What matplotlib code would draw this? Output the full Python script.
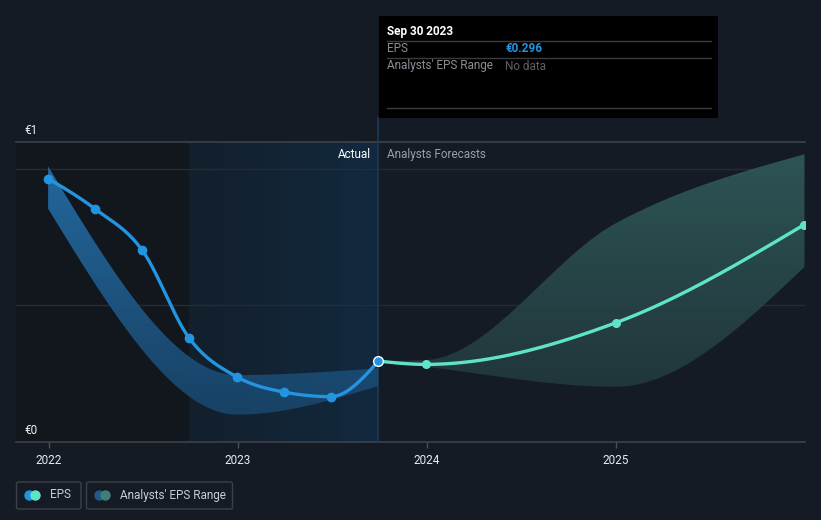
import numpy as np
import pandas as pd
import matplotlib
matplotlib.use("Agg")
import matplotlib.pyplot as plt
import matplotlib.dates as mdates
from matplotlib.lines import Line2D
from matplotlib.patches import Rectangle, FancyBboxPatch

plt.rcParams['font.family'] = ['Roboto', 'DejaVu Sans']

# ---------------- data ----------------
actual_dates = ['2021-12-31', '2022-03-31', '2022-06-30', '2022-09-30',
                '2022-12-31', '2023-03-31', '2023-06-30', '2023-09-30']
actual_eps = [0.964, 0.854, 0.704, 0.379, 0.238, 0.183, 0.166, 0.296]

forecast_dates = ['2023-09-30', '2023-12-31', '2024-12-31', '2025-12-31']
forecast_eps = [0.296, 0.284, 0.436, 0.796]

past_range_dates = ['2021-12-31', '2022-12-31', '2023-09-30']
past_range_high = [1.009, 0.245, 0.270]
past_range_low = [0.854, 0.100, 0.205]

fc_range_dates = ['2023-09-30', '2023-12-31', '2024-12-31', '2025-12-31']
fc_range_high = [0.296, 0.300, 0.800, 1.053]
fc_range_low = [0.296, 0.275, 0.202, 0.641]

year_ticks = ['2022-01-01', '2023-01-01', '2024-01-01', '2025-01-01']
year_labels = ['2022', '2023', '2024', '2025']

tooltip_date = 'Sep 30 2023'
tooltip_eps = '€0.296'

# ---------------- helpers ----------------
W, H = 821, 520
BG = '#151b24'


def d2n(ds):
    return mdates.date2num(pd.to_datetime(ds).to_pydatetime())


def monotone_x(x, y, n=60):
    x = np.asarray(x, float)
    y = np.asarray(y, float)
    k = len(x)
    h = np.diff(x)
    s = np.diff(y) / h
    m = np.zeros(k)
    if k == 2:
        m[:] = s[0]
    else:
        for i in range(1, k - 1):
            s0, s1 = s[i - 1], s[i]
            h0, h1 = h[i - 1], h[i]
            p = (s0 * h1 + s1 * h0) / (h0 + h1)
            m[i] = (np.sign(s0) + np.sign(s1)) * min(abs(s0), abs(s1), 0.5 * abs(p))
        m[0] = (3 * s[0] - m[1]) / 2
        m[-1] = (3 * s[-1] - m[-2]) / 2
    xs, ys = [], []
    for i in range(k - 1):
        t = np.linspace(0, 1, n)
        hh = h[i]
        h00 = 2 * t**3 - 3 * t**2 + 1
        h10 = t**3 - 2 * t**2 + t
        h01 = -2 * t**3 + 3 * t**2
        h11 = t**3 - t**2
        yy = h00 * y[i] + h10 * hh * m[i] + h01 * y[i + 1] + h11 * hh * m[i + 1]
        xx = x[i] + t * hh
        if i > 0:
            xx, yy = xx[1:], yy[1:]
        xs.append(xx)
        ys.append(yy)
    return np.concatenate(xs), np.concatenate(ys)


def fx(px):
    return px / W


def fy(py):
    return 1 - py / H


# ---------------- figure ----------------
fig = plt.figure(figsize=(W / 100, H / 100), dpi=100, facecolor=BG)
ax = fig.add_axes([fx(16), fy(442), fx(805) - fx(16), fy(142) - fy(442)])
ax.set_facecolor(BG)

x_left = d2n('2021-10-30')
x_right = d2n('2026-01-01')
y_top = 1.098
ax.set_xlim(x_left, x_right)
ax.set_ylim(0, y_top)

hl_start = d2n('2022-09-30')
hl_end = d2n('2023-09-30')

# dark past region
ax.axvspan(x_left, hl_start, color='#12161d', zorder=0, lw=0)
# highlighted year region (horizontal gradient)
grad = np.linspace(0, 1, 256).reshape(1, -1)
c0 = np.array([0x13, 0x1f, 0x2c]) / 255
c1 = np.array([0x12, 0x29, 0x3f]) / 255
img = (c0[None, None, :] * (1 - grad[..., None]) + c1[None, None, :] * grad[..., None])
ax.imshow(img, extent=[hl_start, hl_end, 0, y_top], aspect='auto', zorder=0.5,
          interpolation='bilinear')
ax.set_xlim(x_left, x_right)
ax.set_ylim(0, y_top)

# gridlines
for yv, col in [(1.0, '#262c36'), (0.5, '#262c36')]:
    ax.axhline(yv, color=col, lw=1, zorder=1)
ax.axhline(y_top, color='#3c414a', lw=1.2, zorder=1, clip_on=False)
ax.axhline(0, color='#3c414a', lw=1.2, zorder=1, clip_on=False)


def gradient_band(xd, lo, hi, ctop, cbot, ytop_c, ybot_c, alpha):
    xs, ys_hi = monotone_x(xd, hi)
    _, ys_lo = monotone_x(xd, lo)
    poly = ax.fill_between(xs, ys_lo, ys_hi, color='none', lw=0)
    g = np.linspace(1, 0, 256).reshape(-1, 1)
    ct = np.array(ctop) / 255
    cb = np.array(cbot) / 255
    im = ct[None, None, :] * g[..., None] + cb[None, None, :] * (1 - g[..., None])
    im = np.repeat(im, 2, axis=1)
    rgba = np.concatenate([im, np.full(im.shape[:2] + (1,), alpha)], axis=2)
    art = ax.imshow(rgba, extent=[xs.min(), xs.max(), ybot_c, ytop_c],
                    aspect='auto', zorder=2, interpolation='bilinear')
    art.set_clip_path(poly.get_paths()[0], transform=ax.transData)
    ax.set_xlim(x_left, x_right)
    ax.set_ylim(0, y_top)


gradient_band(d2n(past_range_dates), past_range_low, past_range_high,
              (36, 108, 164), (25, 68, 104), 1.01, 0.1, 0.95)
gradient_band(d2n(fc_range_dates), fc_range_low, fc_range_high,
              (48, 88, 88), (33, 56, 60), 1.05, 0.2, 0.95)

# vertical hover line
ax.plot([hl_end, hl_end], [0, y_top + 24 / 273], color='#1d3a56', lw=1.2,
        zorder=1.5, clip_on=False)

# EPS lines
BLUE = '#2394e0'
TEAL = '#5fe3c9'
xa, ya = monotone_x(d2n(actual_dates), actual_eps)
ax.plot(xa, ya, color=BLUE, lw=2.4, zorder=4, solid_capstyle='round')
xf, yf = monotone_x(d2n(forecast_dates), forecast_eps)
ax.plot(xf, yf, color=TEAL, lw=2.4, zorder=4, solid_capstyle='round')

ax.plot(d2n(actual_dates[:-1]), actual_eps[:-1], 'o', color=BLUE, ms=6, zorder=5,
        mec=BLUE)
ax.plot(d2n(forecast_dates[1:]), forecast_eps[1:], 'o', color=TEAL, ms=5.5,
        zorder=5, mec=TEAL)
ax.plot(d2n(actual_dates[-1:]), actual_eps[-1:], 'o', color=BLUE, ms=7, mec='white',
        mew=1.0, zorder=6)

# axes ticks
ax.set_yticks([])
ax.set_xticks(d2n(year_ticks))
ax.set_xticklabels(year_labels)
ax.tick_params(axis='x', length=4, width=1, color='#4a5059', labelcolor='#e8eaed',
               labelsize=8.5, pad=5)
for sp in ax.spines.values():
    sp.set_visible(False)

# y labels
fig.text(fx(24), fy(130), '€1', color='#f0f0f0', fontsize=8.5, va='center', ha='left')
fig.text(fx(24), fy(430), '€0', color='#f0f0f0', fontsize=8.5, va='center', ha='left')

# Actual / Forecasts labels
fig.text(fx(371), fy(154), 'Actual', color='#ffffff', fontsize=8.5, va='center', ha='right')
fig.text(fx(387), fy(154), 'Analysts Forecasts', color='#9aa0a8', fontsize=8.5,
         va='center', ha='left')

# tooltip
fig.add_artist(Rectangle((fx(379), fy(118)), fx(718) - fx(379), fy(16) - fy(118),
                         transform=fig.transFigure, facecolor='#000000',
                         edgecolor='none', zorder=10))
for yy in (41, 58, 108):
    fig.add_artist(Line2D([fx(387), fx(711)], [fy(yy), fy(yy)], transform=fig.transFigure,
                          color='#3a3a3a', lw=1, zorder=11))
fig.text(fx(387), fy(31), tooltip_date, color='#ffffff', fontsize=8.5,
         fontweight='bold', va='center', ha='left', zorder=12)
fig.text(fx(387), fy(49), 'EPS', color='#8a8e95', fontsize=8.5, va='center',
         ha='left', zorder=12)
fig.text(fx(505), fy(49), tooltip_eps, color='#2394e0', fontsize=8.5,
         fontweight='bold', va='center', ha='left', zorder=12)
fig.text(fx(387), fy(66), "Analysts' EPS Range", color='#8a8e95', fontsize=8.5,
         va='center', ha='left', zorder=12)
fig.text(fx(505), fy(66), 'No data', color='#5c6067', fontsize=8.5, va='center',
         ha='left', zorder=12)

# legend
def legend_box(x0, x1, c_left, c_right, cx, label, tx):
    fig.add_artist(FancyBboxPatch((fx(x0), fy(509)), fx(x1) - fx(x0), fy(482) - fy(509),
                                  boxstyle='round,pad=0,rounding_size=0.003',
                                  transform=fig.transFigure, facecolor='none',
                                  edgecolor='#3b4048', lw=1))
    fig.add_artist(Line2D([fx(cx)], [fy(495)], marker='o', ms=6.5, color=c_left,
                          mec=c_left, transform=fig.transFigure))
    fig.add_artist(Line2D([fx(cx + 6)], [fy(495)], marker='o', ms=6.5, color=c_right,
                          mec=c_right, transform=fig.transFigure))
    fig.text(fx(tx), fy(495), label, color='#c9cdd3', fontsize=8.5, va='center', ha='left')


legend_box(16.5, 81, '#2394e0', '#5fe3c9', 29, 'EPS', 50)
legend_box(86.5, 232.5, '#1f5b87', '#3e7f7a', 99, "Analysts' EPS Range", 120)

fig.savefig('out.png', dpi=100, facecolor=BG)
